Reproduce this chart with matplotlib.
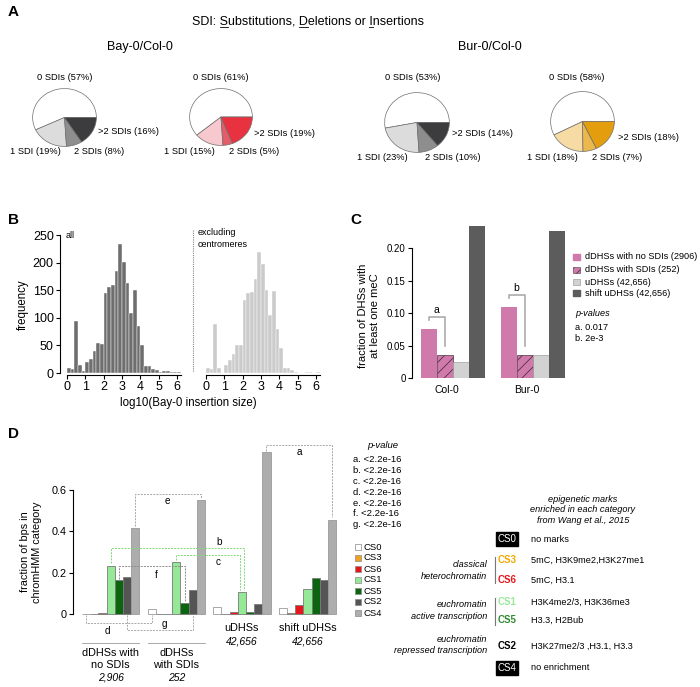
import numpy as np
import matplotlib.pyplot as plt
from matplotlib.lines import Line2D
from matplotlib.patches import Rectangle
from matplotlib.transforms import blended_transform_factory

plt.rcParams['font.family'] = ['Liberation Sans', 'DejaVu Sans']
plt.rcParams['hatch.linewidth'] = 0.6

# A: share of DHSs (%) by number of SDIs
sdi_cats = ['0 SDIs', '1 SDI', '2 SDIs', '>2 SDIs']
bay_udhs = [57, 19, 8, 16]
bay_ddhs = [61, 15, 5, 19]
bur_udhs = [53, 23, 10, 14]
bur_ddhs = [58, 18, 7, 18]

# B: histogram of log10 insertion size, bins of 0.2
bin_edges = np.round(np.arange(0, 6.21, 0.2), 1)
freq_all = [10, 7, 95, 15, 3, 20, 25, 40, 55, 52, 145, 155, 160, 185, 233, 202,
            163, 108, 150, 85, 50, 12, 12, 8, 5, 2, 4, 4, 1, 2, 2]
freq_nocen = [10, 7, 88, 10, 0, 15, 23, 35, 50, 50, 133, 145, 147, 170, 220, 198,
              150, 105, 148, 80, 45, 10, 10, 5, 2, 0, 0, 1, 1, 0, 2]

# C: fraction of DHSs with at least one meC
strains = ['Col-0', 'Bur-0']
mec_labels = ['dDHSs with no SDIs (2906)', 'dDHSs with SDIs (252)',
              'uDHSs (42,656)', 'shift uDHSs (42,656)']
mec_nosdi = [0.076, 0.110]
mec_sdi = [0.035, 0.035]
mec_udhs = [0.025, 0.036]
mec_shift = [0.234, 0.226]
mec_pvals = ['a. 0.017', 'b. 2e-3']

# D: fraction of bps in chromHMM category
grp_names = ['dDHSs with\nno SDIs', 'dDHSs\nwith SDIs', 'uDHSs', 'shift uDHSs']
grp_sizes = ['2,906', '252', '42,656', '42,656']
cs_names = ['CS0', 'CS3', 'CS6', 'CS1', 'CS5', 'CS2', 'CS4']
cs0 = [0.002, 0.024, 0.036, 0.027]
cs3 = [0.001, 0.0, 0.001, 0.007]
cs6 = [0.004, 0.002, 0.008, 0.042]
cs1 = [0.232, 0.253, 0.108, 0.121]
cs5 = [0.163, 0.053, 0.012, 0.176]
cs2 = [0.179, 0.118, 0.048, 0.167]
cs4 = [0.416, 0.550, 0.784, 0.455]
d_pvals = ['a. <2.2e-16', 'b. <2.2e-16', 'c. <2.2e-16', 'd. <2.2e-16',
           'e. <2.2e-16', 'f. <2.2e-16', 'g. <2.2e-16']
cs_marks = ['no marks', '5mC, H3K9me2,H3K27me1', '5mC, H3.1', 'H3K4me2/3, H3K36me3',
            'H3.3, H2Bub', 'H3K27me2/3 ,H3.1, H3.3', 'no enrichment']

cs_colors = ['white', '#f0a11e', '#e8161b', '#95e895', '#0a650e', '#555555', '#adadad']
W, H = 700, 687
fig = plt.figure(figsize=(7, 6.87), dpi=100)


def box(x0, y0, x1, y1):
    return [x0 / W, 1 - y1 / H, (x1 - x0) / W, (y1 - y0) / H]


def ftext(x, y, s, **kw):
    kw.setdefault('fontsize', 6.8)
    kw.setdefault('ha', 'center')
    kw.setdefault('va', 'center')
    return fig.text(x / W, 1 - y / H, s, **kw)


def fline(xs, ys, **kw):
    fig.add_artist(Line2D([x / W for x in xs], [1 - y / H for y in ys],
                          transform=fig.transFigure, **kw))


def fsquare(x, y, size, **kw):
    fig.add_artist(Rectangle((x / W, 1 - (y + size / 2) / H), size / W, size / H,
                             transform=fig.transFigure, **kw))


# panel letters
for letter, x, y in [('A', 8, 12), ('B', 8, 220), ('C', 350, 220), ('D', 8, 434)]:
    ftext(x, y, letter, fontsize=11, fontweight='bold', ha='left')

# ---------------- A
title = 'SDI: Substitutions, Deletions or Insertions'
t = ftext(308, 21, title, fontsize=9)
renderer = fig.canvas.get_renderer()
tb = t.get_window_extent(renderer)


def width_of(s):
    tmp = fig.text(0, 0, s, fontsize=9)
    w = tmp.get_window_extent(renderer).width
    tmp.remove()
    return w


for pos in [5, 20, 33]:
    xa = tb.x0 + width_of(title[:pos])
    xb = tb.x0 + width_of(title[:pos + 1])
    yy = tb.y0 + 0.5
    fig.add_artist(Line2D([xa / W, xb / W], [yy / H, yy / H],
                          transform=fig.transFigure, color='black', lw=0.6))

ftext(140, 47, 'Bay-0/Col-0', fontsize=9)
ftext(490, 47, 'Bur-0/Col-0', fontsize=9)

pies = [
    (bay_udhs, ['white', '#dcdcdc', '#8e8e8e', '#3c3b3d'], (32, 88, 97, 147),
     [(65, 77), (35, 152), (99, 152), (98, 131)]),
    (bay_ddhs, ['white', '#f7c8cd', '#e65d6a', '#e8323f'], (189, 88, 253, 146),
     [(221, 77), (189, 152), (254, 152), (254, 134)]),
    (bur_udhs, ['white', '#dcdcdc', '#8e8e8e', '#3c3b3d'], (384, 92, 450, 153),
     [(413, 77), (382, 157), (453, 157), (452, 133)]),
    (bur_ddhs, ['white', '#f6dca4', '#ebb84e', '#e49d0c'], (550, 91, 615, 152),
     [(577, 77), (552, 157), (617, 157), (618, 137)]),
]
for vals, cols, bx, lab_pos in pies:
    ax = fig.add_axes(box(*bx))
    ax.pie(vals, colors=cols, startangle=0, counterclock=True,
           wedgeprops=dict(edgecolor='#6e6e6e', linewidth=0.5))
    ax.set_aspect('auto')
    ax.set_xlim(-1.02, 1.02)
    ax.set_ylim(-1.02, 1.02)
    for k, (cat, v, (lx, ly)) in enumerate(zip(sdi_cats, vals, lab_pos)):
        ftext(lx, ly, f'{cat} ({v}%)', fontsize=6.7, ha='left' if k == 3 else 'center')

# ---------------- B
axb1 = fig.add_axes(box(60, 235, 180.6, 374.7))
axb2 = fig.add_axes(box(206, 235, 319.7, 374.7))
for ax, freq, col in [(axb1, freq_all, '#6e6e6e'), (axb2, freq_nocen, '#cbcbcb')]:
    ax.bar(bin_edges[:-1], freq, width=0.2, align='edge', color=col,
           edgecolor='white', linewidth=0.3)
    ax.set_ylim(-3, 250)
    ax.set_xticks(range(7))
    ax.spines[['top', 'right']].set_visible(False)
    ax.spines['bottom'].set_bounds(0, 6.2)
    ax.tick_params(labelsize=9, length=3, width=0.8, pad=1.5)
    ax.patch.set_visible(False)
axb1.set_xlim(-0.38, 6.2)
axb2.set_xlim(0, 6.2)
axb1.set_yticks(range(0, 251, 50))
axb1.spines['left'].set_bounds(0, 250)
axb2.spines['left'].set_visible(False)
axb2.set_yticks([])
ftext(66, 236, 'all', fontsize=6.5, ha='left')
ftext(198, 238.5, 'excluding\ncentromeres', fontsize=6.5, ha='left', linespacing=1.3)
fline([193, 193], [230, 372], color='#888888', lw=0.8, ls=(0, (1, 1)))
ftext(188, 403, 'log10(Bay-0 insertion size)', fontsize=8.3)
ftext(23, 305, 'frequency', fontsize=8.3, rotation=90)

# ---------------- C
pink = '#d07aab'
axc = fig.add_axes(box(412, 225, 565, 378))
xc = np.arange(len(strains)) * 5
axc.bar(xc, mec_nosdi, width=1, color=pink)
axc.bar(xc + 1, mec_sdi, width=1, color=pink, hatch='///', edgecolor='#4d3342', linewidth=0.5)
axc.bar(xc + 2, mec_udhs, width=1, color='#d2d2d2', edgecolor='#a0a0a0', linewidth=0.5)
axc.bar(xc + 3, mec_shift, width=1, color='#5c5c5c')
axc.set_xlim(-1.06, 8.5)
axc.set_ylim(0, 0.2354)
axc.spines[['top', 'right', 'bottom']].set_visible(False)
axc.spines['left'].set_bounds(0, 0.2)
axc.set_yticks([0, 0.05, 0.10, 0.15, 0.20])
axc.set_yticklabels(['0', '0.05', '0.10', '0.15', '0.20'])
axc.set_xticks(xc + 1.1)
axc.set_xticklabels(strains)
axc.tick_params(axis='y', labelsize=7, length=3, width=0.8, pad=1.5)
axc.tick_params(axis='x', labelsize=7.5, length=0, pad=5)
axc.patch.set_visible(False)
for k, lab in enumerate(['a', 'b']):
    x0 = xc[k]
    y_hi = mec_nosdi[k] + 0.018
    axc.plot([x0, x0, x0 + 1, x0 + 1], [y_hi - 0.005, y_hi, y_hi, mec_sdi[k] + 0.014],
             color='#ababab', lw=1.2, clip_on=False)
    axc.text(x0 + 0.45, y_hi + 0.01, lab, fontsize=7.5, ha='center', va='center')
ftext(369, 316, 'fraction of DHSs with\nat least one meC', fontsize=8, rotation=90,
      linespacing=1.2)
leg_y = [257, 270, 282, 293]
leg_style = [dict(facecolor=pink, edgecolor=pink),
             dict(facecolor=pink, edgecolor='#4d3342', hatch='////', lw=0.4),
             dict(facecolor='#d2d2d2', edgecolor='#a0a0a0', lw=0.5),
             dict(facecolor='#5c5c5c', edgecolor='#5c5c5c')]
for y, lab, st in zip(leg_y, mec_labels, leg_style):
    fsquare(573, y, 6.5, **st)
    ftext(585, y, lab, fontsize=6.6, ha='left')
ftext(575, 313, 'p-values', fontsize=6.6, ha='left', style='italic')
for k, p in enumerate(mec_pvals):
    ftext(575, 327 + 11.5 * k, p, fontsize=6.6, ha='left')

# ---------------- D
axd = fig.add_axes(box(73, 440.4, 337, 634.7))
cs_vals = [cs0, cs3, cs6, cs1, cs5, cs2, cs4]
gx = np.arange(len(grp_names)) * 8
for i, (name, vals, col) in enumerate(zip(cs_names, cs_vals, cs_colors)):
    axd.bar(gx + i, vals, width=1, color=col,
            edgecolor='#9a9a9a' if i in (0, 6) else '#7a7a7a', linewidth=0.6)
axd.set_xlim(-1.6, 30.6)
axd.set_ylim(-0.1, 0.84)
axd.spines[['top', 'right', 'bottom']].set_visible(False)
axd.spines['left'].set_bounds(0, 0.6)
axd.set_xticks([])
axd.set_yticks([0, 0.2, 0.4, 0.6])
axd.set_yticklabels(['0', '0.2', '0.4', '0.6'])
axd.tick_params(axis='y', labelsize=7.8, length=3, width=0.8, pad=1.5)
axd.patch.set_visible(False)


def bracket(x1, y1, x2, y2, ytop, col, lab, lx, ly):
    axd.plot([x1, x1, x2, x2], [y1, ytop, ytop, y2], color=col, lw=0.7,
             ls=(0, (2, 1.2)), clip_on=False)
    axd.text(lx, ly, lab, fontsize=7.2, ha='center', va='center')


grey_d = '#a8a8a8'
green_d = '#7fd87f'
bracket(gx[2] + 6, cs4[2] + 0.006, gx[3] + 6, cs4[3] + 0.015, 0.816, grey_d, 'a', 26, 0.784)
bracket(gx[0] + 6, cs4[0] + 0.01, gx[1] + 6, cs4[1] + 0.011, 0.579, grey_d, 'e', 9.9, 0.547)
bracket(gx[0] + 3, cs1[0] + 0.014, gx[2] + 3.25, cs1[2] + 0.008, 0.318, green_d, 'b', 16.2, 0.347)
bracket(gx[1] + 3, cs1[1] + 0.008, gx[2] + 2.75, cs1[2] + 0.008, 0.284, green_d, 'c', 16.1, 0.25)
bracket(gx[0] + 4, cs5[0] + 0.006, gx[1] + 4, cs5[1] + 0.006, 0.232, '#8c8c8c', 'f', 8.5, 0.189)
bracket(gx[0], -0.005, gx[1], -0.005, -0.042, grey_d, 'd', 2.6, -0.081)
bracket(gx[0] + 5, -0.005, gx[1] + 5, -0.005, -0.077, grey_d, 'g', 9.5, -0.05)

ftext(31, 552, 'fraction of bps in\nchromHMM category', fontsize=7.8, rotation=90,
      linespacing=1.2)
tr = blended_transform_factory(axd.transData, fig.transFigure)
for k, (nm, sz) in enumerate(zip(grp_names, grp_sizes)):
    xg = gx[k] + 3
    if '\n' in nm:
        axd.text(xg, 1 - 658.5 / H, nm, transform=tr, fontsize=7.8, ha='center',
                 va='center', linespacing=1.25)
        axd.text(xg, 1 - 678 / H, sz, transform=tr, fontsize=7.5, ha='center',
                 va='center', style='italic')
        axd.plot([gx[k] - 0.5, gx[k] + 6.5], [1 - 643 / H] * 2, transform=tr,
                 color='#9a9a9a', lw=0.6, clip_on=False)
    else:
        axd.text(xg, 1 - 628 / H, nm, transform=tr, fontsize=7.8, ha='center', va='center')
        axd.text(xg, 1 - 642 / H, sz, transform=tr, fontsize=7.5, ha='center',
                 va='center', style='italic')

# p-value list and CS legend
ftext(383, 446, 'p-value', style='italic')
for k, p in enumerate(d_pvals):
    ftext(353, 460 + 10.8 * k, p, ha='left')
for k, (nm, col) in enumerate(zip(cs_names, cs_colors)):
    y = 547 + 11 * k
    fsquare(355, y, 5.5, facecolor=col, edgecolor='#8a8a8a', lw=0.5)
    ftext(363, y, nm, ha='left')

# table of marks
ftext(583, 510, 'epigenetic marks\nenriched in each category\nfrom Wang et al., 2015',
      style='italic', fontsize=6.6, linespacing=1.25)
table_y = [539, 560, 580, 602, 620, 646, 668]
table_col = ['white', '#f2a900', '#e8161b', '#9be89b', '#2e8b2e', 'black', 'white']
for k, (nm, marks, y, col) in enumerate(zip(cs_names, cs_marks, table_y, table_col)):
    if k in (0, 6):
        ftext(507, y, nm, color='white', fontsize=7,
              bbox=dict(facecolor='black', edgecolor='black', pad=1.2))
    else:
        ftext(507, y, nm, color=col, fontsize=7, fontweight='bold')
    ftext(531, y, marks, fontsize=6.6, ha='left')
for lab, y in [('classical\nheterochromatin', 570.5),
               ('euchromatin\nactive transcription', 610.5),
               ('euchromatin\nrepressed transcription', 645)]:
    ftext(487, y, lab, ha='right', style='italic', fontsize=6.6, linespacing=1.3)
fline([495, 495], [557, 583], color='#777777', lw=0.8)
fline([495, 495], [598, 625], color='#777777', lw=0.8)

fig.savefig('out.png', dpi=100)
